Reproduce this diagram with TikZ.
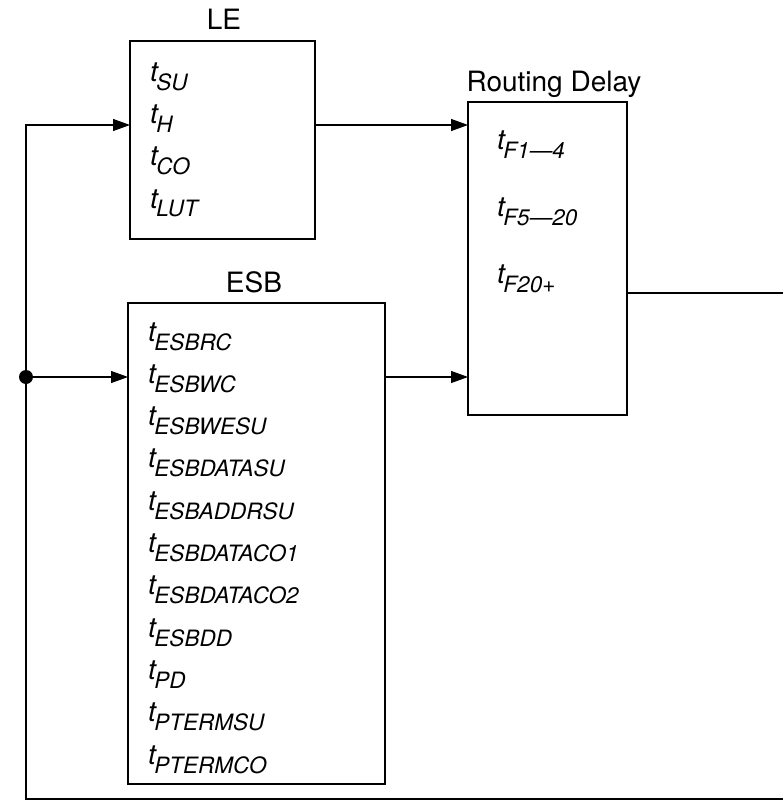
\documentclass[tikz,border=0pt]{standalone}
\usepackage{fontspec}
\setmainfont{TeX Gyre Heros}
\usetikzlibrary{arrows.meta}
\newcommand{\tdel}[1]{{\fontsize{28}{28}\selectfont\itshape t}\kern-1.5pt\raisebox{-9pt}{\fontsize{22.5}{22.5}\selectfont\itshape #1}}
\tikzset{
  blk/.style={draw=black, line width=1.1pt, inner sep=0pt, outer sep=0pt, anchor=north west},
  ttl/.style={anchor=base, inner sep=0pt, font=\fontsize{28}{28}\selectfont},
  ent/.style={anchor=base west, inner sep=0pt},
  wire/.style={draw=black, line width=1.1pt},
  arr/.style={wire, -{Triangle[length=17pt,width=12pt]}},
}
\begin{document}
\begin{tikzpicture}[x=1pt,y=-1pt]
\useasboundingbox (0,0) rectangle (783,810);
% blocks
\node[blk, minimum width=185pt, minimum height=198pt] (le) at (130,41) {};
\node[blk, minimum width=159pt, minimum height=313pt] (rd) at (468,102) {};
\node[blk, minimum width=257pt, minimum height=481pt] (esb) at (128,303) {};
% titles
\node[ttl] (tle) at (224,30) {LE};
\node[ttl] (trd) at (554,92) {Routing Delay};
\node[ttl] (tesb) at (254,292) {ESB};
% LE entries
\node[ent] (l1) at (150,82) {\tdel{SU}};
\node[ent] (l2) at (150,124) {\tdel{H}};
\node[ent] (l3) at (150,166) {\tdel{CO}};
\node[ent] (l4) at (150,208) {\tdel{LUT}};
% Routing entries
\node[ent] (r1) at (497,150) {\tdel{F1—4}};
\node[ent] (r2) at (497,217) {\tdel{F5—20}};
\node[ent] (r3) at (497,283) {\tdel{F20+}};
% ESB entries
\node[ent] (e1) at (148,341.0) {\tdel{ESBRC}};
\node[ent] (e2) at (148,383.3) {\tdel{ESBWC}};
\node[ent] (e3) at (148,425.6) {\tdel{ESBWESU}};
\node[ent] (e4) at (148,467.9) {\tdel{ESBDATASU}};
\node[ent] (e5) at (148,510.2) {\tdel{ESBADDRSU}};
\node[ent] (e6) at (148,552.5) {\tdel{ESBDATACO1}};
\node[ent] (e7) at (148,594.8) {\tdel{ESBDATACO2}};
\node[ent] (e8) at (148,637.1) {\tdel{ESBDD}};
\node[ent] (e9) at (148,679.4) {\tdel{PD}};
\node[ent] (e10) at (148,721.7) {\tdel{PTERMSU}};
\node[ent] (e11) at (148,764.0) {\tdel{PTERMCO}};
% connectors
\coordinate (fbT) at (26,125);
\coordinate (fbB) at (26,799);
\coordinate (j) at (26,377);
\coordinate (outR) at (784,293);
\coordinate (outB) at (784,799);
\draw[arr] (outB) -- (fbB) -- (fbT) -- (fbT -| le.west);
\draw[arr] (fbT -| le.east) -- (fbT -| rd.west);
\draw[arr] (j) -- (j -| esb.west);
\draw[arr] (j -| esb.east) -- (j -| rd.west);
\draw[wire] (rd.east |- outR) -- (outR);
\fill[black] (j) circle (7pt);
\end{tikzpicture}
\end{document}
